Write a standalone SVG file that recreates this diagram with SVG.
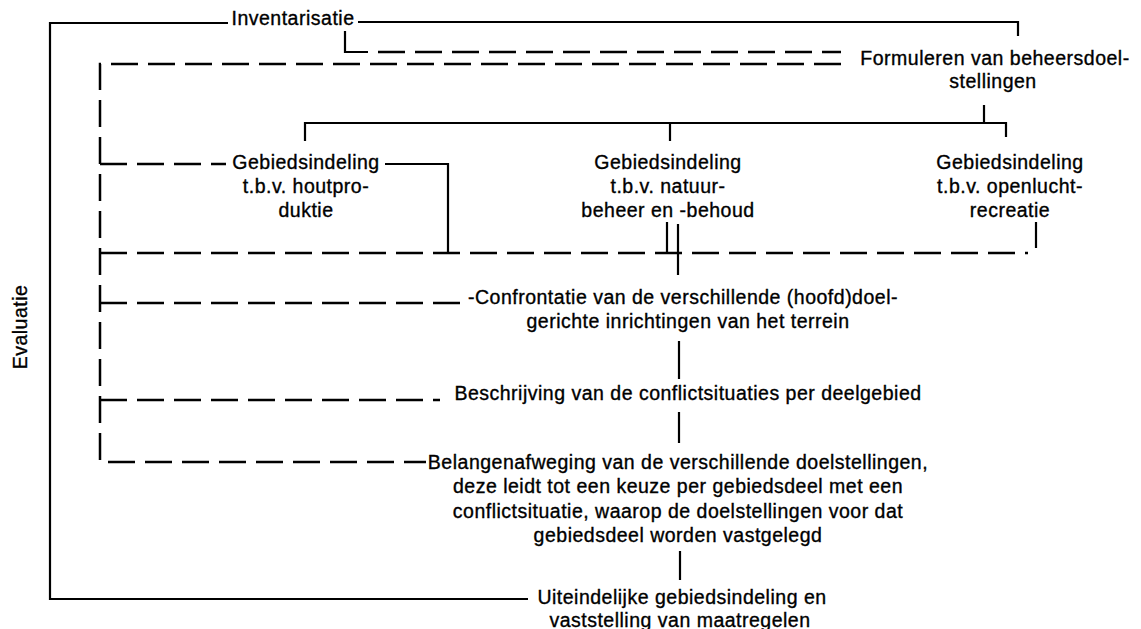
<svg xmlns="http://www.w3.org/2000/svg" width="1141" height="629" viewBox="0 0 1141 629">
<style>
text{font-family:"Liberation Sans",Arial,Helvetica,sans-serif;font-size:19.5px;letter-spacing:0.5px;fill:#000;stroke:#000;stroke-width:0.35px;text-anchor:middle}
.s{fill:none;stroke:#000;stroke-width:2.2}
.d{fill:none;stroke:#000;stroke-width:2.5;stroke-dasharray:27 10}
</style>
<rect width="1141" height="629" fill="#fff"/>
<g id="connectors">
<path class="s" d="M228,23 H50 V599 H528"/>
<path class="s" d="M358,22 H1018 V36"/>
<path class="s" d="M345,31 V52 H368"/>
<path class="d" d="M378,52 H841"/>
<path class="d" d="M841,64 H100 V462 H426"/>
<path class="d" d="M100,164 H226"/>
<path class="s" d="M385,164 H448 V253"/>
<path class="d" d="M100,253 H1028"/>
<path class="d" d="M100,303 H465"/>
<path class="d" d="M100,400 H440"/>
<path class="s" d="M305,141 V123 H1006 V137"/>
<path class="s" d="M670,123 V141"/>
<path class="s" d="M984,105 V123"/>
<path class="s" d="M667,222 V253"/>
<path class="s" d="M678,224 V275"/>
<path class="s" d="M1036,222 V248"/>
<path class="s" d="M679,341 V379"/>
<path class="s" d="M679,412 V443"/>
<path class="s" d="M680,551 V580"/>
</g>
<g id="evaluatie"><text transform="translate(27,327) rotate(-90)">Evaluatie</text></g>
<g id="inventarisatie"><text x="293" y="25">Inventarisatie</text></g>
<g id="formuleren"><text x="995" y="65">Formuleren van beheersdoel-</text><text x="993" y="88">stellingen</text></g>
<g id="hout"><text x="306" y="169">Gebiedsindeling</text><text x="306" y="193">t.b.v. houtpro-</text><text x="306" y="217">duktie</text></g>
<g id="natuur"><text x="668" y="169">Gebiedsindeling</text><text x="668" y="193">t.b.v. natuur-</text><text x="668" y="217">beheer en -behoud</text></g>
<g id="openlucht"><text x="1010" y="169">Gebiedsindeling</text><text x="1010" y="193">t.b.v. openlucht-</text><text x="1010" y="217">recreatie</text></g>
<g id="confrontatie"><text x="683" y="304">-Confrontatie van de verschillende (hoofd)doel-</text><text x="688" y="328">gerichte inrichtingen van het terrein</text></g>
<g id="beschrijving"><text x="688" y="400">Beschrijving van de conflictsituaties per deelgebied</text></g>
<g id="belangenafweging"><text x="678" y="469">Belangenafweging van de verschillende doelstellingen,</text><text x="678" y="493">deze leidt tot een keuze per gebiedsdeel met een</text><text x="678" y="518">conflictsituatie, waarop de doelstellingen voor dat</text><text x="678" y="542">gebiedsdeel worden vastgelegd</text></g>
<g id="uiteindelijk"><text x="682" y="604">Uiteindelijke gebiedsindeling en</text><text x="680" y="627">vaststelling van maatregelen</text></g>
</svg>
